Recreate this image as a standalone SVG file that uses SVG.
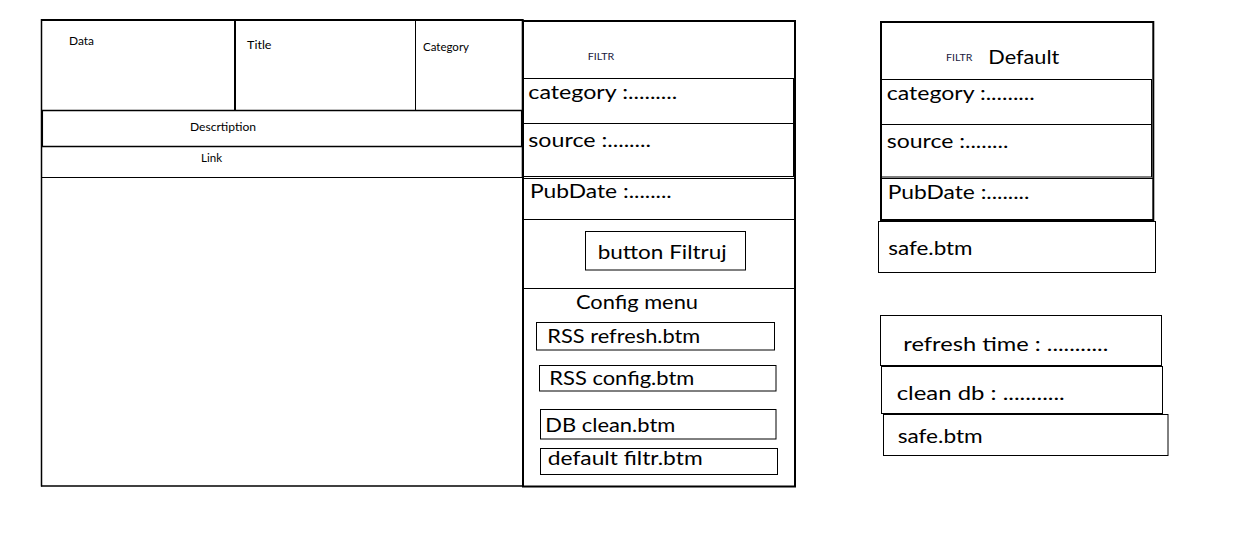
<svg xmlns="http://www.w3.org/2000/svg" width="1251" height="533" viewBox="0 0 1251 533">
<style>
.b{fill:none;stroke:#000;stroke-width:1}
.t{fill:none;stroke:#000;stroke-width:2}
.m{fill:none;stroke:#000;stroke-width:1.5}
.s{font-family:Lato,"Liberation Sans",Arial,sans-serif;font-size:11px;fill:#000}
.f{font-family:Lato,"Liberation Sans",Arial,sans-serif;font-size:10px;fill:#1a1a40}
.L{font-family:Lato,"Liberation Sans",Arial,sans-serif;font-size:19.5px;fill:#000}
</style>
<rect width="1251" height="533" fill="#fff"/>
<g id="news-panel">
  <line class="t" x1="41" y1="20" x2="523" y2="20"/>
  <line class="m" x1="41.5" y1="19" x2="41.5" y2="486.5"/>
  <line class="m" x1="41" y1="486" x2="523" y2="486"/>
  <line class="t" x1="235" y1="20" x2="235" y2="110"/>
  <line class="b" x1="415.5" y1="20" x2="415.5" y2="110"/>
  <line class="t" x1="522.7" y1="19" x2="522.7" y2="178"/>
  <line class="b" x1="522.5" y1="178" x2="522.5" y2="486.5"/>
  <rect class="m" x="42.3" y="110.5" width="479.4" height="36"/>
  <line class="b" x1="41" y1="177.5" x2="523" y2="177.5"/>
  <text class="s" x="69" y="45" textLength="25" lengthAdjust="spacingAndGlyphs">Data</text>
  <text class="s" x="247" y="48.5" textLength="24.5" lengthAdjust="spacingAndGlyphs">Title</text>
  <text class="s" x="423" y="50.5" textLength="46" lengthAdjust="spacingAndGlyphs">Category</text>
  <text class="s" x="190" y="130.5" textLength="66" lengthAdjust="spacingAndGlyphs">Descrtiption</text>
  <text class="s" x="201" y="162" textLength="21" lengthAdjust="spacingAndGlyphs">Link</text>
</g>
<g id="filter-panel">
  <rect class="t" x="523" y="21" width="272" height="465.5"/>
  <rect class="b" x="523.5" y="78.5" width="270" height="45"/>
  <rect class="b" x="523.5" y="123.5" width="270" height="53"/>
  <line class="b" x1="523" y1="178.5" x2="795" y2="178.5"/>
  <line class="b" x1="523" y1="219.5" x2="795" y2="219.5"/>
  <line class="b" x1="523" y1="288.5" x2="795" y2="288.5"/>
  <text class="f" x="587.7" y="60" textLength="26.5" lengthAdjust="spacingAndGlyphs">FILTR</text>
  <text class="L" x="528.3" y="99.3" textLength="149" lengthAdjust="spacingAndGlyphs">category :.........</text>
  <text class="L" x="528.3" y="146.7" textLength="122.7" lengthAdjust="spacingAndGlyphs">source :........</text>
  <text class="L" x="530" y="198.3" textLength="141.7" lengthAdjust="spacingAndGlyphs">PubDate :........</text>
</g>
<g id="button-filtruj">
  <rect class="b" x="585.5" y="231.5" width="160" height="38.5"/>
  <text class="L" x="597.7" y="259.3" textLength="129" lengthAdjust="spacingAndGlyphs">button Filtruj</text>
</g>
<g id="config-menu">
  <text class="L" x="576" y="309.3" textLength="122" lengthAdjust="spacingAndGlyphs">Config menu</text>
  <rect class="b" x="536.5" y="322.5" width="238" height="27.5"/>
  <text class="L" x="547.3" y="342.7" textLength="153" lengthAdjust="spacingAndGlyphs">RSS refresh.btm</text>
  <rect class="b" x="539.5" y="365.5" width="236.5" height="25.5"/>
  <text class="L" x="549.3" y="385.3" textLength="145" lengthAdjust="spacingAndGlyphs">RSS config.btm</text>
  <rect class="b" x="540.5" y="409.5" width="235.5" height="29.5"/>
  <text class="L" x="545.3" y="432.3" textLength="130" lengthAdjust="spacingAndGlyphs">DB clean.btm</text>
  <rect class="b" x="540.5" y="448.5" width="237" height="26"/>
  <text class="L" x="547.7" y="465" textLength="155" lengthAdjust="spacingAndGlyphs">default filtr.btm</text>
</g>
<g id="default-filter-panel">
  <rect class="t" x="881" y="22" width="272.3" height="198"/>
  <rect class="b" x="881.5" y="79.5" width="270" height="45"/>
  <rect class="b" x="881.5" y="124.5" width="270" height="52.5"/>
  <line class="b" x1="881" y1="178.5" x2="1153" y2="178.5"/>
  <text class="f" x="946" y="60.7" textLength="26.3" lengthAdjust="spacingAndGlyphs">FILTR</text>
  <text class="L" x="988.3" y="64.3" textLength="71" lengthAdjust="spacingAndGlyphs">Default</text>
  <text class="L" x="886.7" y="100" textLength="148" lengthAdjust="spacingAndGlyphs">category :.........</text>
  <text class="L" x="886.7" y="148.3" textLength="121.7" lengthAdjust="spacingAndGlyphs">source :........</text>
  <text class="L" x="887.7" y="199.3" textLength="141.7" lengthAdjust="spacingAndGlyphs">PubDate :........</text>
</g>
<g id="safe-button-1">
  <rect class="b" x="878.5" y="221.5" width="277" height="51"/>
  <text class="L" x="888.3" y="255" textLength="84.3" lengthAdjust="spacingAndGlyphs">safe.btm</text>
</g>
<g id="refresh-time">
  <rect class="b" x="880.5" y="315.5" width="281" height="50"/>
  <text class="L" x="903.3" y="350.7" textLength="205" lengthAdjust="spacingAndGlyphs">refresh time : ...........</text>
</g>
<g id="clean-db">
  <rect class="b" x="881.5" y="366.5" width="281" height="47"/>
  <text class="L" x="896.7" y="400" textLength="168" lengthAdjust="spacingAndGlyphs">clean db : ...........</text>
</g>
<g id="safe-button-2">
  <rect class="b" x="883.5" y="414.5" width="284.5" height="41"/>
  <text class="L" x="897.7" y="443.3" textLength="85" lengthAdjust="spacingAndGlyphs">safe.btm</text>
</g>
<g id="connectors"/>
</svg>
